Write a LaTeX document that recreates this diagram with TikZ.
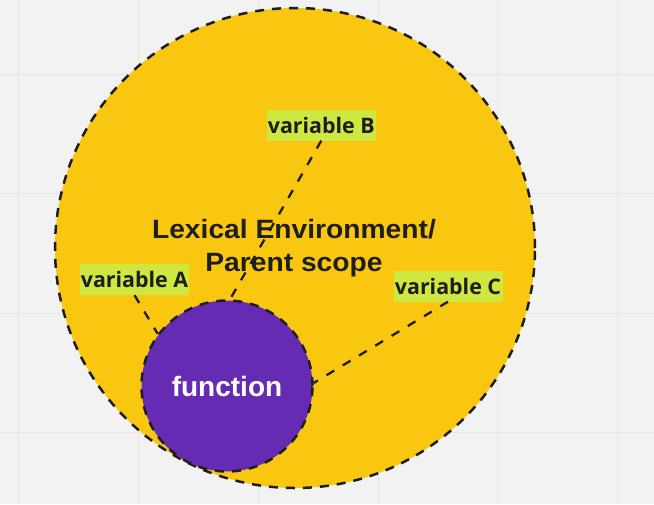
\documentclass[tikz,border=0pt]{standalone}
\usepackage{graphicx}
\usepackage{fontspec}
\setmainfont{Liberation Sans}
\newfontfamily\lblfont{Open Sans}
\definecolor{bgc}{HTML}{F2F2F2}
\definecolor{gridc}{HTML}{E5E5E5}
\definecolor{envyellow}{HTML}{FAC710}
\definecolor{fnpurple}{HTML}{652CB3}
\definecolor{lblgreen}{HTML}{CEE741}
\definecolor{ink}{HTML}{1E1E1E}
\newcommand{\wideline}[1]{\scalebox{1.065}[1]{#1}}
\tikzset{
  gridline/.style={draw=gridc, line width=1pt},
  scopecircle/.style={circle, inner sep=0pt, draw=ink, line width=2.5pt, dash pattern=on 9pt off 8pt},
  varlabel/.style={fill=lblgreen, text=ink, inner sep=0pt, minimum width=109pt, minimum height=31pt,
    font=\lblfont\bfseries\fontsize{21.4}{24}\selectfont},
  conn/.style={draw=ink, line width=2.3pt, dash pattern=on 9pt off 10pt}
}
\begin{document}
\begin{tikzpicture}[x=1pt,y=-1pt]
\useasboundingbox (0,0) rectangle (654,504);
\fill[bgc] (0,0) rectangle (654,504);
\foreach \gx in {18,138,258,378,497,617} \draw[gridline] (\gx,0) -- (\gx,504);
\foreach \gy in {74,193,313,432} \draw[gridline] (0,\gy) -- (654,\gy);
\node[scopecircle, fill=envyellow, minimum size=480pt] (env) at (295,248) {};
\node[scopecircle, fill=fnpurple, minimum size=171pt, text=white,
  font=\bfseries\fontsize{28}{32}\selectfont] (fn) at (227,386) {function};
\node[align=center, text=ink, inner sep=0pt, font=\bfseries\fontsize{26.5}{33}\selectfont] (title) at (294,248.5) {\wideline{Lexical Environment/}\\\wideline{Parent scope}};
\node[varlabel] (va) at (134.5,279.5) {variable A};
\node[varlabel] (vb) at (321.3,125) {variable B};
\node[varlabel] (vc) at (448,286) {variable C};
\draw[conn] (va.south) -- (fn.143);
\draw[conn] (vb.south) -- (fn.88);
\draw[conn] (vc.south) -- (fn.2);
\end{tikzpicture}
\end{document}
